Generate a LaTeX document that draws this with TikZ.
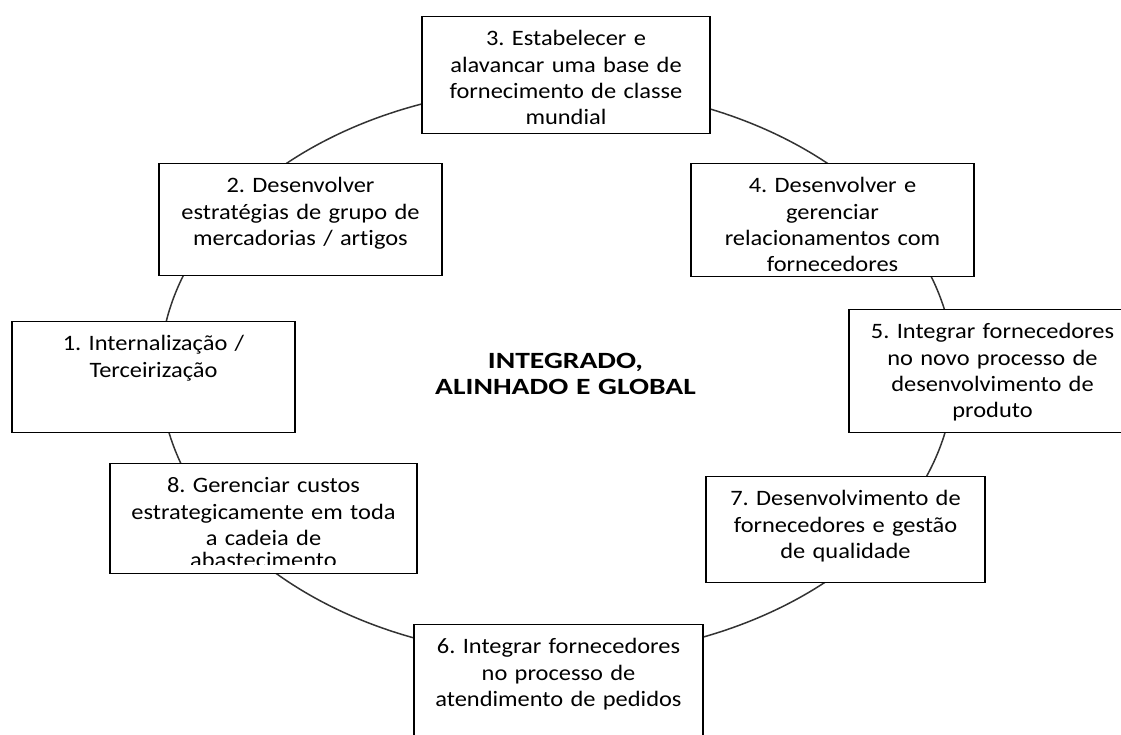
\documentclass[tikz,border=0pt]{standalone}
\usepackage{fontspec}
\setmainfont{Carlito}[Ligatures=NoCommon]
\newfontfamily\stagefam{Carlito}[FakeStretch=1.11, Ligatures=NoCommon]
\newfontfamily\hubfam{Carlito}[FakeStretch=1.27, Ligatures=NoCommon]
\frenchspacing
\usepackage{tikz}
\usetikzlibrary{shapes.geometric}
\tikzstyle{orbit} = [ellipse, draw=black!80, line width=1.5pt, minimum width=794pt, minimum height=570pt, inner sep=0pt]
\tikzstyle{stage} = [rectangle, draw=black, fill=white, line width=1.4pt, align=center, anchor=north, inner xsep=5pt, inner ysep=5pt, text height=24pt, font=\stagefam\fontsize{22}{26.4}\selectfont]
\tikzstyle{tail} = [anchor=base, inner sep=0pt, font=\stagefam\fontsize{22}{26.4}\selectfont]
\tikzstyle{hub} = [align=center, text width=320pt, anchor=base, inner sep=0pt, font=\hubfam\bfseries\fontsize{23.3}{26.7}\selectfont]

\begin{document}
\begin{tikzpicture}[x=1pt, y=-1pt]
   \useasboundingbox (0,0) rectangle (1121,734);
   \node (ring) [orbit] at (557,372) {};
   \node (centre) [hub] at (565.5,368) {INTEGRADO,\\ALINHADO E GLOBAL};
   \node (s1) [stage, text width=273pt, text depth=77pt] at (153.5,321) {1. Internalização /\\Terceirização};
   \node (s2) [stage, text width=273pt, text depth=78pt] at (300.5,163) {2. Desenvolver\\estratégias de grupo de\\mercadorias / artigos};
   \node (s3) [stage, text width=278pt, text depth=83pt] at (566,16) {3. Estabelecer e\\alavancar uma base de\\fornecimento de classe\\mundial};
   \node (s4) [stage, text width=273pt, text depth=79pt] at (832.5,163) {4. Desenvolver e\\gerenciar\\relacionamentos com\\fornecedores};
   \node (s5) [stage, text width=277pt, text depth=89pt] at (992.5,309) {5. Integrar fornecedores\\no novo processo de\\desenvolvimento de\\produto};
   \node (s6) [stage, text width=279pt, text depth=106pt] at (558.5,624) {6. Integrar fornecedores\\no processo de\\atendimento de pedidos};
   \node (s7) [stage, text width=269pt, text depth=72pt] at (845.5,476) {7. Desenvolvimento de\\fornecedores e gestão\\de qualidade};
   \node (s8) [stage, text width=297pt, text depth=76pt] at (263.5,463) {8. Gerenciar custos\\estrategicamente em toda\\a cadeia de};
   % last line of box 8 is cut off by the box
   \begin{scope}
      \clip (110,463) rectangle (417,564);
      \node (s8tail) [tail] at (263.5,567) {abastecimento};
   \end{scope}
\end{tikzpicture}
\end{document}
